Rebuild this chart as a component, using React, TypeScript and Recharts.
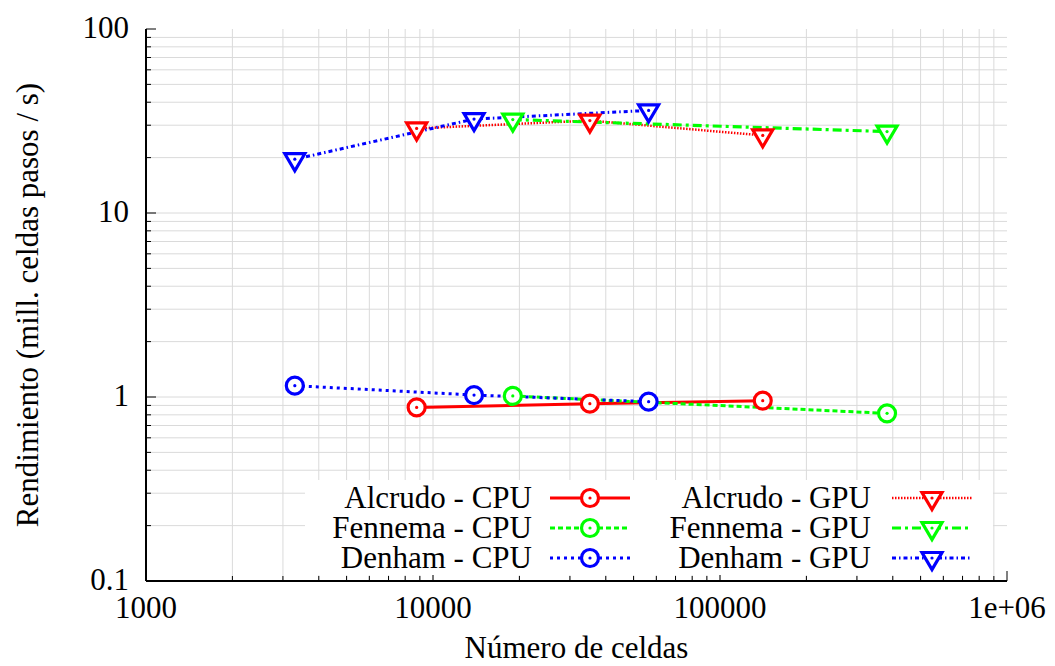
import React from 'react'
import { LineChart, Line, XAxis, YAxis, ReferenceLine, Legend } from 'recharts'

// number of cells per test case, and throughput in million cell-steps per second
const alcrudoCells = [8770, 35200, 140900]
const alcrudoCpu = [0.878, 0.92, 0.955]
const alcrudoGpu = [28.8, 31.8, 26.4]

const fennemaCells = [18970, 382000]
const fennemaCpu = [1.013, 0.815]
const fennemaGpu = [32.2, 27.7]

const denhamCells = [3300, 13900, 56400]
const denhamCpu = [1.152, 1.025, 0.943]
const denhamGpu = [19.6, 32.4, 36.1]

const xMajor = [1000, 10000, 100000, 1000000]
const xMinor = [
  2000, 3000, 4000, 5000, 6000, 7000, 8000, 9000,
  20000, 30000, 40000, 50000, 60000, 70000, 80000, 90000,
  200000, 300000, 400000, 500000, 600000, 700000, 800000, 900000,
]
const yMajor = [0.1, 1, 10, 100]
const yMinor = [
  0.2, 0.3, 0.4, 0.5, 0.6, 0.7, 0.8, 0.9,
  2, 3, 4, 5, 6, 7, 8, 9,
  20, 30, 40, 50, 60, 70, 80, 90,
]
const xLabels: Record<number, string> = { 1000: '1000', 10000: '10000', 100000: '100000', 1000000: '1e+06' }
const yLabels: Record<number, string> = { 0.1: '0.1', 1: '1', 10: '10', 100: '100' }

const FONT = '"Liberation Serif", "Times New Roman", serif'
const FS = 31
const GRID = '#dadada'

type Shape = 'circle' | 'triangle'
interface Series {
  key: string
  name: string
  cells: number[]
  values: number[]
  color: string
  width: number
  dash?: string
  shape: Shape
}

const cpuSeries: Series[] = [
  { key: 'alcrudoCpu', name: 'Alcrudo - CPU', cells: alcrudoCells, values: alcrudoCpu, color: '#ff0000', width: 3, shape: 'circle' },
  { key: 'fennemaCpu', name: 'Fennema - CPU', cells: fennemaCells, values: fennemaCpu, color: '#00ff00', width: 3, dash: '5 3', shape: 'circle' },
  { key: 'denhamCpu', name: 'Denham - CPU', cells: denhamCells, values: denhamCpu, color: '#0000ff', width: 3, dash: '3 4', shape: 'circle' },
]
const gpuSeries: Series[] = [
  { key: 'alcrudoGpu', name: 'Alcrudo - GPU', cells: alcrudoCells, values: alcrudoGpu, color: '#ff0000', width: 2.5, dash: '1.5 1.5', shape: 'triangle' },
  { key: 'fennemaGpu', name: 'Fennema - GPU', cells: fennemaCells, values: fennemaGpu, color: '#00ff00', width: 3.2, dash: '9 4 3 4', shape: 'triangle' },
  { key: 'denhamGpu', name: 'Denham - GPU', cells: denhamCells, values: denhamGpu, color: '#0000ff', width: 3, dash: '4 3 1.5 3', shape: 'triangle' },
]
const allSeries = [...cpuSeries, ...gpuSeries]

const Marker = ({ cx, cy, color, shape }: { cx: number; cy: number; color: string; shape: Shape }) => {
  if (cx == null || cy == null) return null
  if (shape === 'circle') {
    return (
      <g>
        <circle cx={cx} cy={cy} r={8.5} fill="#fff" stroke={color} strokeWidth={3.2} />
        <circle cx={cx} cy={cy} r={1.6} fill={color} />
      </g>
    )
  }
  return (
    <g>
      <path
        d={`M${cx - 10},${cy - 5.5} L${cx + 10},${cy - 5.5} L${cx},${cy + 11.5} Z`}
        fill="#fff"
        stroke={color}
        strokeWidth={3.2}
        strokeLinejoin="miter"
      />
      <circle cx={cx} cy={cy} r={1.6} fill={color} />
    </g>
  )
}

const BottomTick = ({ x, y, payload }: any) => {
  const major = xMajor.includes(payload.value)
  return (
    <g>
      <line x1={x} x2={x} y1={y} y2={y - (major ? 10 : 5)} stroke="#000" strokeWidth={1} />
      {major && (
        <text x={x} y={y + 37} textAnchor="middle" fontSize={FS} fontFamily={FONT} fill="#000">
          {xLabels[payload.value]}
        </text>
      )}
    </g>
  )
}

const TopTick = ({ x, y, payload }: any) => {
  const major = xMajor.includes(payload.value)
  return <line x1={x} x2={x} y1={y} y2={y + (major ? 10 : 5)} stroke="#000" strokeWidth={1} />
}

const LeftTick = ({ x, y, payload }: any) => {
  const major = yMajor.includes(payload.value)
  return (
    <g>
      <line x1={x} x2={x + (major ? 10 : 5)} y1={y} y2={y} stroke="#000" strokeWidth={1} />
      {major && (
        <text x={x - 17} y={y + 9} textAnchor="end" fontSize={FS} fontFamily={FONT} fill="#000">
          {yLabels[payload.value]}
        </text>
      )}
    </g>
  )
}

const RightTick = ({ x, y, payload }: any) => {
  const major = yMajor.includes(payload.value)
  return <line x1={x} x2={x - (major ? 10 : 5)} y1={y} y2={y} stroke="#000" strokeWidth={1} />
}

const XTitle = (props: any) => {
  const vb = props.viewBox
  return (
    <text x={vb.x + vb.width / 2} y={vb.y + 77} textAnchor="middle" fontSize={FS} fontFamily={FONT} fill="#000">
      Número de celdas
    </text>
  )
}

const YTitle = (props: any) => {
  const vb = props.viewBox
  const cx = vb.x + 27
  const cy = vb.y + vb.height / 2
  return (
    <text x={cx} y={cy} transform={`rotate(-90 ${cx} ${cy})`} textAnchor="middle" dominantBaseline="central" fontSize={FS} fontFamily={FONT} fill="#000">
      Rendimiento (mill. celdas pasos / s)
    </text>
  )
}

const KeyRow = ({ s, textRight, x1, x2, cy }: { s: Series; textRight: number; x1: number; x2: number; cy: number }) => (
  <g>
    <text x={textRight} y={cy + 10} textAnchor="end" fontSize={FS} fontFamily={FONT} fill="#000">{s.name}</text>
    <line x1={x1} x2={x2} y1={cy} y2={cy} stroke={s.color} strokeWidth={s.width} strokeDasharray={s.dash} />
    <Marker cx={(x1 + x2) / 2} cy={cy} color={s.color} shape={s.shape} />
  </g>
)

const KeyBox = () => (
  <svg width={688} height={95} style={{ display: 'block', overflow: 'visible' }}>
    {cpuSeries.map((s, i) => (
      <KeyRow key={s.key} s={s} textRight={227} x1={245} x2={325} cy={18 + i * 30} />
    ))}
    {gpuSeries.map((s, i) => (
      <KeyRow key={s.key} s={s} textRight={566} x1={587} x2={667} cy={18 + i * 30} />
    ))}
  </svg>
)

export default function App() {
  const xTicks = [...xMajor, ...xMinor].sort((a, b) => a - b)
  const yTicks = [...yMajor, ...yMinor].sort((a, b) => a - b)

  return (
    <div style={{ position: 'absolute', left: 0, top: 0, background: '#fff' }}>
      <LineChart width={1055} height={666} margin={{ top: 29, right: 48, bottom: 0, left: 0 }}>
        <XAxis
          xAxisId="bottom"
          type="number"
          dataKey="x"
          scale="log"
          domain={[1000, 1000000]}
          allowDataOverflow
          ticks={xTicks}
          interval={0}
          tick={BottomTick}
          tickLine={false}
          tickSize={0}
          tickMargin={0}
          height={85}
          axisLine={{ stroke: '#000', strokeWidth: 2 }}
          label={XTitle}
        />
        <XAxis
          xAxisId="top"
          orientation="top"
          type="number"
          dataKey="x"
          scale="log"
          domain={[1000, 1000000]}
          allowDataOverflow
          ticks={xTicks}
          interval={0}
          tick={TopTick}
          tickLine={false}
          tickSize={0}
          tickMargin={0}
          height={0}
          axisLine={{ stroke: '#000', strokeWidth: 2 }}
        />
        <YAxis
          yAxisId="left"
          type="number"
          scale="log"
          domain={[0.1, 100]}
          allowDataOverflow
          ticks={yTicks}
          interval={0}
          tick={LeftTick}
          tickLine={false}
          tickSize={0}
          tickMargin={0}
          width={146}
          axisLine={{ stroke: '#000', strokeWidth: 2 }}
          label={YTitle}
        />
        <YAxis
          yAxisId="right"
          orientation="right"
          type="number"
          scale="log"
          domain={[0.1, 100]}
          allowDataOverflow
          ticks={yTicks}
          interval={0}
          tick={RightTick}
          tickLine={false}
          tickSize={0}
          tickMargin={0}
          width={0}
          axisLine={{ stroke: '#000', strokeWidth: 2 }}
        />
        {xMinor.concat(xMajor.slice(1, -1)).map((v) => (
          <ReferenceLine key={`gx${v}`} x={v} xAxisId="bottom" yAxisId="left" stroke={GRID} strokeWidth={1} />
        ))}
        {yMinor.concat(yMajor.slice(1, -1)).map((v) => (
          <ReferenceLine key={`gy${v}`} y={v} xAxisId="bottom" yAxisId="left" stroke={GRID} strokeWidth={1} />
        ))}
        {allSeries.map((s) => (
          <Line
            key={s.key}
            xAxisId="bottom"
            yAxisId="left"
            data={s.cells.map((c, i) => ({ x: c, y: s.values[i] }))}
            dataKey="y"
            name={s.name}
            type="linear"
            stroke={s.color}
            strokeWidth={s.width}
            strokeDasharray={s.dash}
            isAnimationActive={false}
            activeDot={false}
            dot={(p: any) => (
              <Marker key={`${s.key}-${p.index}`} cx={p.cx} cy={p.cy} color={s.color} shape={s.shape} />
            )}
          />
        ))}
        <Legend
          layout="vertical"
          align="center"
          verticalAlign="middle"
          content={() => <KeyBox />}
          wrapperStyle={{ left: 305, top: 480, width: 688, height: 95, background: '#fff' }}
        />
      </LineChart>
    </div>
  )
}
